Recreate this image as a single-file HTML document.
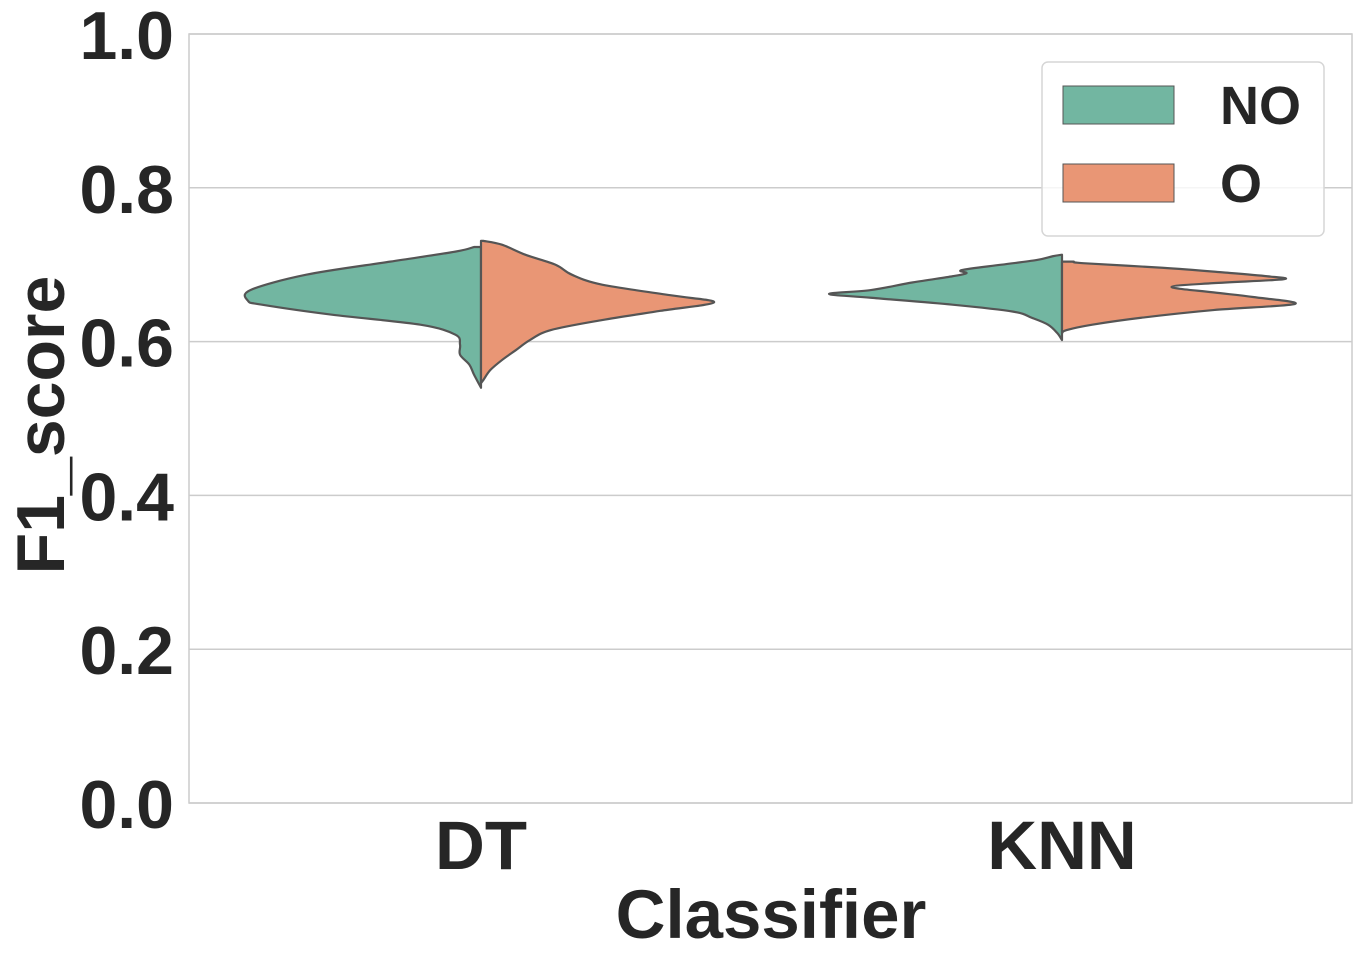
<!DOCTYPE html>
<html><head><meta charset="utf-8"><style>
body{margin:0;background:#fff}
svg text{font-family:"Liberation Sans",sans-serif;font-weight:bold;fill:#262626}
</style></head><body>
<svg id="c" width="1361" height="961">
<g id="grid"></g>
<rect x="189" y="34" width="1163" height="769" fill="none" stroke="#cccccc" stroke-width="1.5"/>
<g id="marks"></g>
<g id="labels"></g>
<text x="771" y="938" font-size="69" text-anchor="middle">Classifier</text>
<text transform="translate(64,425) rotate(-90)" font-size="68" text-anchor="middle">F1_score</text>
<g>
<rect x="1042" y="62" width="282" height="174" rx="6" fill="#fff" fill-opacity="0.8" stroke="#d6d6d6" stroke-width="1.5"/>
<rect x="1063" y="86" width="111" height="38" fill="#72b6a1" stroke="#555"/>
<text x="1220" y="124" font-size="54">NO</text>
<rect x="1063" y="164" width="111" height="38" fill="#e99675" stroke="#555"/>
<text x="1220" y="202" font-size="54">O</text>
</g>
</svg>
<script>
const categories=["DT","KNN"];
const yTicks=[0,0.2,0.4,0.6,0.8,1.0];
const yTickLabels=["0.0","0.2","0.4","0.6","0.8","1.0"];
const dtNoVals=[.723,.717,.704,.687,.667,.653,.648,.635,.622,.609,.596,.583,.570,.557,.540];
const dtNoDens=[.03,.11,.39,.75,.99,1.0,.94,.64,.26,.11,.09,.09,.05,.03,0];
const dtOVals=[.731,.726,.713,.700,.687,.674,.660,.651,.640,.628,.615,.602,.589,.576,.563,.550,.546];
const dtODens=[.01,.09,.19,.32,.39,.52,.82,1.0,.77,.52,.30,.21,.15,.09,.04,.01,0];
const knnNoVals=[.713,.711,.706,.700,.693,.689,.685,.677,.667,.662,.657,.648,.639,.631,.622,.611,.602];
const knnNoDens=[0,.04,.11,.26,.43,.41,.47,.64,.82,1.0,.82,.47,.21,.13,.06,.02,0];
const knnOVals=[.704,.702,.696,.690,.685,.681,.676,.671,.664,.658,.649,.641,.631,.622,.615,.611];
const knnODens=[.05,.09,.43,.69,.88,.95,.65,.47,.65,.82,1.0,.65,.34,.13,.02,0];
const NS="http://www.w3.org/2000/svg";
const y=v=>803-v*769;
const xc=i=>481+i*581;
const HW=233;
const grid=document.getElementById('grid'),labels=document.getElementById('labels'),marks=document.getElementById('marks');
yTicks.forEach((t,i)=>{
 const l=document.createElementNS(NS,'line');
 l.setAttribute('x1',189);l.setAttribute('x2',1352);l.setAttribute('y1',y(t));l.setAttribute('y2',y(t));
 l.setAttribute('stroke','#cccccc');l.setAttribute('stroke-width',1.5);
 
 
 grid.appendChild(l);
 const tx=document.createElementNS(NS,'text');
 tx.setAttribute('x',174);tx.setAttribute('y',y(t)+25);tx.setAttribute('font-size',68);tx.setAttribute('text-anchor','end');
 tx.textContent=yTickLabels[i];
 
 
 labels.appendChild(tx);
});
categories.forEach((c,i)=>{
 const tx=document.createElementNS(NS,'text');
 tx.setAttribute('x',xc(i));tx.setAttribute('y',869);tx.setAttribute('font-size',69);tx.setAttribute('text-anchor','middle');
 tx.textContent=c;
 
 
 labels.appendChild(tx);
});
function half(i,vals,dens,side,color,name){
 const cx=xc(i);
 let pts=vals.map((v,k)=>[cx+side*dens[k]*HW,y(v)]);
 let d=`M${cx},${y(vals[0])} L${pts[0][0]},${pts[0][1]}`;
 for(let k=1;k<pts.length;k++){
  const p0=pts[k-2]||pts[k-1],p1=pts[k-1],p2=pts[k],p3=pts[k+1]||p2;
  const c1=[p1[0]+(p2[0]-p0[0])/6,p1[1]+(p2[1]-p0[1])/6],c2=[p2[0]-(p3[0]-p1[0])/6,p2[1]-(p3[1]-p1[1])/6];
  d+=` C${c1[0]},${c1[1]} ${c2[0]},${c2[1]} ${p2[0]},${p2[1]}`;
 }
 d+=` L${cx},${y(vals[vals.length-1])} Z`;
 const p=document.createElementNS(NS,'path');
 p.setAttribute('d',d);p.setAttribute('fill',color);p.setAttribute('stroke','#555');p.setAttribute('stroke-width',2.2);p.setAttribute('stroke-linejoin','round');
 
 
 marks.appendChild(p);
}
half(0,dtNoVals,dtNoDens,-1,'#72b6a1','violin-dt-no');
half(0,dtOVals,dtODens,1,'#e99675','violin-dt-o');
half(1,knnNoVals,knnNoDens,-1,'#72b6a1','violin-knn-no');
half(1,knnOVals,knnODens,1,'#e99675','violin-knn-o');
</script>
</body></html>
